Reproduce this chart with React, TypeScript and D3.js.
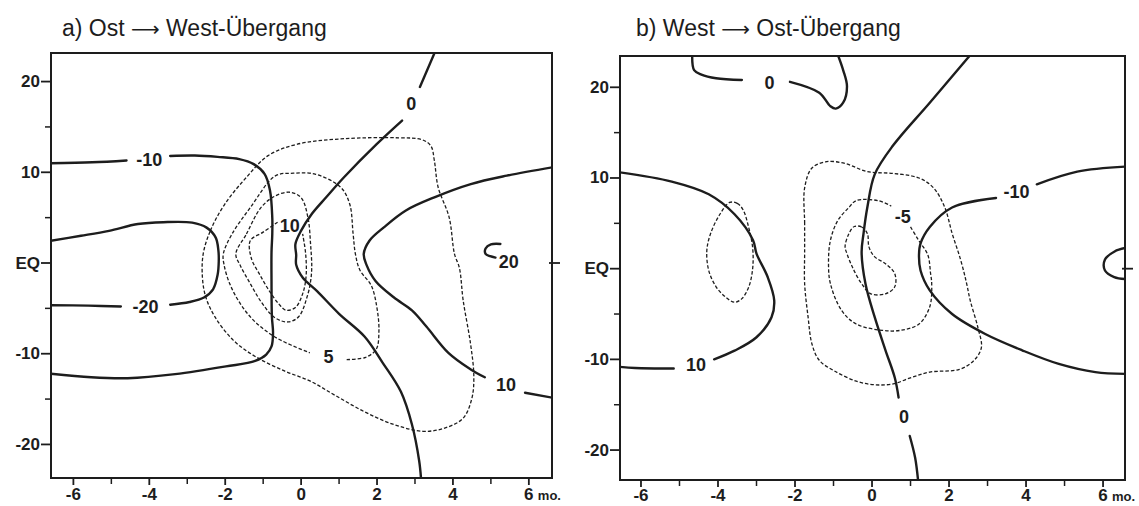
import React from "react";
import * as d3 from "d3";

type Pt = [number, number];

// ---------- axis / text data ----------
const xMajorTicks = [-6, -4, -2, 0, 2, 4, 6];
const xTickLabels = ["-6", "-4", "-2", "0", "2", "4", "6"];
const xMinorTicks = [-5, -3, -1, 1, 3, 5];
const yMajorTicks = [20, 10, 0, -10, -20];
const yTickLabels = ["20", "10", "EQ", "-10", "-20"];
const yMinorTicks = [15, 5, -5, -15];
const titleParts: [string, string, string][] = [
  ["a) Ost ", "\u27F6", " West-\u00dcbergang"],
  ["b) West ", "\u27F6", " Ost-\u00dcbergang"],
];
const unitLabel = "mo.";

// ---------- panel a : solid contours (month, latitude) ----------
const aNeg10Left: Pt[] = [[-6.6, 11.0], [-5.5, 11.1], [-4.6, 11.3]];
const aNeg10Right: Pt[] = [[-3.45, 11.8], [-2.8, 11.85], [-2.2, 11.7], [-1.63, 11.45], [-1.25, 10.9], [-0.96, 9.8], [-0.82, 8.0], [-0.76, 5.0], [-0.76, 3.2], [-0.78, 1.2], [-0.78, -2.0], [-0.77, -5.9], [-0.74, -7.7], [-0.78, -9.2], [-0.92, -10.1], [-1.21, -10.8], [-1.98, -11.4], [-3.32, -12.25], [-4.57, -12.7], [-5.53, -12.6], [-6.6, -12.2]];
const aNeg20Upper: Pt[] = [[-6.6, 2.45], [-5.8, 3.0], [-5.06, 3.55], [-4.3, 4.3], [-3.63, 4.5], [-2.87, 4.45], [-2.49, 3.9], [-2.25, 2.8], [-2.18, 1.4], [-2.17, 0.2], [-2.2, -1.3], [-2.32, -2.9], [-2.56, -3.8], [-2.94, -4.3], [-3.45, -4.6]];
const aNeg20Lower: Pt[] = [[-4.75, -4.8], [-5.6, -4.7], [-6.6, -4.65]];
const aZeroTop: Pt[] = [[3.52, 23.2], [3.13, 19.4]];
const aZeroMain: Pt[] = [[2.66, 15.7], [1.99, 13.1], [1.13, 9.45], [0.66, 7.24], [0.28, 5.4], [0.0, 3.57], [-0.15, 2.1], [-0.13, 0.9], [-0.13, -0.2], [0.04, -1.6], [0.42, -3.1], [1.0, -5.6], [1.67, -8.1], [2.15, -11.0], [2.63, -14.2], [2.92, -17.8], [3.11, -21.8], [3.16, -23.8]];
const aTenMain: Pt[] = [[6.62, 10.55], [5.42, 9.63], [4.47, 8.7], [3.51, 7.24], [2.75, 5.77], [2.18, 3.93], [1.8, 2.46], [1.65, 1.0], [1.72, -0.18], [1.96, -1.98], [2.44, -3.78], [2.92, -5.22], [3.3, -7.0], [3.88, -9.9], [4.46, -11.7], [4.84, -12.6]];
const aTenTail: Pt[] = [[5.9, -14.3], [6.62, -14.85]];
const aTwentyArc: Pt[] = [[5.25, 2.1], [5.0, 2.05], [4.86, 1.6], [4.86, 1.0], [4.98, 0.75], [5.12, 0.6]];

// ---------- panel a : dashed contours ----------
const aDashOuter: Pt[] = [[-2.58, 1.0], [-2.39, 3.57], [-2.01, 6.5], [-1.44, 9.45], [-0.87, 11.84], [-0.1, 13.1], [1.13, 13.7], [2.56, 13.8], [3.18, 13.6], [3.42, 12.9], [3.51, 11.3], [3.61, 8.35], [3.9, 5.04], [4.04, 1.0], [4.17, -0.54], [4.27, -4.14], [4.46, -8.8], [4.55, -12.4], [4.5, -14.9], [4.27, -17.1], [3.78, -18.2], [3.21, -18.55], [2.44, -17.8], [1.67, -16.4], [0.9, -14.6], [0.23, -13.0], [-0.44, -11.9], [-1.21, -10.3], [-1.79, -8.5], [-2.27, -5.94], [-2.51, -3.78], [-2.6, -1.62]];
const aDashFive: Pt[] = [[1.2, -10.65], [1.7, -10.4], [1.98, -9.5], [2.05, -7.5], [2.0, -5.0], [1.85, -2.5], [1.55, -0.8], [1.43, 1.0], [1.37, 3.2], [1.28, 6.5], [1.04, 8.35], [0.37, 9.8], [-0.2, 9.9], [-0.68, 9.6], [-1.34, 6.1], [-1.82, 3.2], [-2.05, 1.0], [-2.03, -0.2], [-1.88, -2.3], [-1.6, -4.5], [-1.21, -6.5], [-0.63, -8.3], [0.23, -9.9]];
const aDashThird: Pt[] = [[-1.72, 1.0], [-1.44, 3.2], [-1.06, 6.1], [-0.68, 7.4], [-0.3, 7.8], [0.0, 7.2], [0.18, 5.0], [0.25, 2.0], [0.28, -0.5], [0.25, -2.0], [0.18, -3.4], [-0.06, -5.9], [-0.35, -6.5], [-0.7, -6.0], [-1.05, -4.3], [-1.35, -2.2], [-1.6, -0.3]];
const aDashTenLeft: Pt[] = [[-0.62, 4.5], [-1.0, 3.4], [-1.34, 2.46], [-1.31, 0.5], [-1.1, -1.2], [-0.85, -3.0], [-0.59, -4.5], [-0.4, -5.2], [-0.15, -4.9], [0.04, -3.4], [0.13, -1.5], [0.12, 1.0], [0.04, 3.2]];

// ---------- panel b : solid contours ----------
const bZeroTopLeft: Pt[] = [[-4.67, 23.6], [-4.62, 21.9], [-4.43, 21.4], [-4.05, 21.0], [-3.38, 20.8]];
const bZeroTopRight: Pt[] = [[-2.13, 20.6], [-1.37, 19.4], [-1.08, 17.9], [-0.94, 17.65], [-0.75, 18.3], [-0.65, 20.1], [-0.75, 21.9], [-0.89, 23.6]];
const bZeroDiagUpper: Pt[] = [[2.56, 23.6], [1.5, 18.3], [0.55, 13.6], [0.07, 10.4], [-0.12, 6.8], [-0.22, 3.9], [-0.27, 1.8], [-0.17, -1.66], [0.07, -5.35], [0.35, -9.0], [0.59, -12.0], [0.69, -14.2]];
const bZeroDiagLower: Pt[] = [[0.98, -18.45], [1.12, -20.85], [1.2, -23.5]];
const bNeg10Right: Pt[] = [[6.6, 11.26], [5.33, 10.7], [4.28, 9.3]];
const bNeg10Main: Pt[] = [[3.22, 7.8], [2.08, 6.75], [1.5, 4.6], [1.26, 2.78], [1.22, 1.5], [1.26, -0.2], [1.5, -2.4], [2.08, -5.0], [2.94, -7.2], [3.9, -9.0], [4.85, -10.5], [5.8, -11.4], [6.6, -11.6]];
const bTenMain: Pt[] = [[-6.6, 10.65], [-5.2, 9.6], [-4.24, 8.2], [-3.57, 6.0], [-3.09, 3.14], [-3.0, 1.66], [-2.71, -0.92], [-2.54, -3.5], [-2.61, -5.35], [-3.0, -7.56], [-3.57, -9.04], [-4.1, -10.0]];
const bTenTail: Pt[] = [[-5.15, -11.0], [-6.15, -10.95], [-6.6, -10.8]];
const bSemi: Pt[] = [[6.6, 2.3], [6.3, 1.9], [6.05, 1.0], [6.05, -0.2], [6.29, -0.92], [6.6, -1.15]];

// ---------- panel b : dashed contours ----------
const bDashLeft: Pt[] = [[-3.7, 7.3], [-3.5, 7.2], [-3.35, 6.5], [-3.2, 4.5], [-3.1, 2.3], [-3.1, 0], [-3.2, -2.0], [-3.38, -3.3], [-3.57, -3.7], [-3.81, -3.1], [-4.05, -2.0], [-4.24, -0.2], [-4.29, 2.0], [-4.19, 3.9], [-3.95, 6.0]];
const bDashOuter: Pt[] = [[-1.75, 1.7], [-1.75, 5.0], [-1.75, 8.9], [-1.56, 11.1], [-1.18, 11.8], [-0.7, 11.6], [-0.12, 10.7], [0.55, 10.5], [1.22, 10.0], [1.6, 8.9], [1.89, 6.75], [2.08, 3.9], [2.3, 1.0], [2.45, -1.5], [2.55, -3.5], [2.75, -6.5], [2.84, -8.7], [2.65, -10.1], [2.27, -11.1], [1.5, -11.4], [1.02, -12.0], [0.55, -12.7], [0.07, -12.8], [-0.41, -12.4], [-0.99, -11.25], [-1.37, -10.1], [-1.56, -8.3], [-1.66, -5.35], [-1.75, -1.66]];
const bDashFive: Pt[] = [[1.0, 4.6], [1.2, 3.2], [1.45, 1.5], [1.52, -0.5], [1.55, -1.66], [1.5, -4.2], [1.22, -6.1], [0.74, -6.8], [0.26, -6.8], [-0.41, -6.1], [-0.79, -4.6], [-1.08, -1.66], [-1.13, 0.55], [-1.08, 3.14], [-0.89, 5.3], [-0.6, 6.75], [-0.41, 7.5], [0.16, 7.5], [0.5, 6.9]];
const bDashInner: Pt[] = [[-0.46, 4.65], [-0.27, 4.6], [-0.12, 3.86], [-0.08, 2.4], [0.07, 1.3], [0.35, 0.55], [0.59, -0.55], [0.59, -2.0], [0.35, -2.77], [-0.03, -2.77], [-0.27, -1.66], [-0.51, 0.18], [-0.65, 1.66], [-0.7, 2.4], [-0.6, 3.86]];

// ---------- contour labels ----------
const aLabelTexts = ["-10", "-20", "0", "10", "5", "10", "20"];
const aLabelPos: Pt[] = [[-4.0, 11.4], [-4.1, -4.9], [2.9, 17.5], [-0.3, 4.1], [0.72, -10.4], [5.4, -13.5], [5.47, 0.1]];
const bLabelTexts = ["0", "-10", "-5", "10", "0"];
const bLabelPos: Pt[] = [[-2.66, 20.5], [3.75, 8.4], [0.8, 5.7], [-4.57, -10.6], [0.83, -16.3]];

type Contour = { pts: Pt[]; closed: boolean; dashed: boolean };

const aContours: Contour[] = [
  { pts: aNeg10Left, closed: false, dashed: false },
  { pts: aNeg10Right, closed: false, dashed: false },
  { pts: aNeg20Upper, closed: false, dashed: false },
  { pts: aNeg20Lower, closed: false, dashed: false },
  { pts: aZeroTop, closed: false, dashed: false },
  { pts: aZeroMain, closed: false, dashed: false },
  { pts: aTenMain, closed: false, dashed: false },
  { pts: aTenTail, closed: false, dashed: false },
  { pts: aTwentyArc, closed: false, dashed: false },
  { pts: aDashOuter, closed: true, dashed: true },
  { pts: aDashFive, closed: false, dashed: true },
  { pts: aDashThird, closed: true, dashed: true },
  { pts: aDashTenLeft, closed: false, dashed: true },
];

const bContours: Contour[] = [
  { pts: bZeroTopLeft, closed: false, dashed: false },
  { pts: bZeroTopRight, closed: false, dashed: false },
  { pts: bZeroDiagUpper, closed: false, dashed: false },
  { pts: bZeroDiagLower, closed: false, dashed: false },
  { pts: bNeg10Right, closed: false, dashed: false },
  { pts: bNeg10Main, closed: false, dashed: false },
  { pts: bTenMain, closed: false, dashed: false },
  { pts: bTenTail, closed: false, dashed: false },
  { pts: bSemi, closed: false, dashed: false },
  { pts: bDashLeft, closed: true, dashed: true },
  { pts: bDashOuter, closed: true, dashed: true },
  { pts: bDashFive, closed: false, dashed: true },
  { pts: bDashInner, closed: true, dashed: true },
];

type PanelCfg = {
  id: string;
  title: [string, string, string];
  titleX: number;
  left: number;
  right: number;
  top: number;
  bottom: number;
  xLabelY: number;
  xDomain: [number, number];
  yDomain: [number, number];
  contours: Contour[];
  labelTexts: string[];
  labelPos: Pt[];
};

const INK = "#1d1d1d";
const FONT = "'Liberation Sans', Arial, Helvetica, sans-serif";

function Panel({ cfg }: { cfg: PanelCfg }) {
  const x = d3.scaleLinear().domain(cfg.xDomain).range([cfg.left, cfg.right]);
  const y = d3.scaleLinear().domain(cfg.yDomain).range([cfg.bottom, cfg.top]);
  const open = d3
    .line<Pt>()
    .x((d) => x(d[0]))
    .y((d) => y(d[1]))
    .curve(d3.curveCatmullRom.alpha(0.5));
  const closed = d3
    .line<Pt>()
    .x((d) => x(d[0]))
    .y((d) => y(d[1]))
    .curve(d3.curveCatmullRomClosed.alpha(0.5));
  const clipId = `clip-${cfg.id}`;
  return (
    <g>
      <defs>
        <clipPath id={clipId}>
          <rect x={cfg.left} y={cfg.top} width={cfg.right - cfg.left} height={cfg.bottom - cfg.top} />
        </clipPath>
      </defs>
      <text x={cfg.titleX} y={36} fontFamily={FONT} fontSize={23} fill={INK}>
        <tspan>{cfg.title[0]}</tspan>
        <tspan fontFamily="'DejaVu Sans', sans-serif" fontSize={20}>{cfg.title[1]}</tspan>
        <tspan>{cfg.title[2]}</tspan>
      </text>
      <g clipPath={`url(#${clipId})`}>
        {cfg.contours.map((c, i) => (
          <path
            key={i}
            d={(c.closed ? closed : open)(c.pts) || ""}
            fill="none"
            stroke={INK}
            strokeWidth={c.dashed ? 1.3 : 2.4}
            strokeDasharray={c.dashed ? "3.5 2" : undefined}
            strokeLinecap={c.dashed ? "butt" : "round"}
            strokeLinejoin="round"
          />
        ))}
      </g>
      {cfg.labelTexts.map((t, i) => (
        <text
          key={i}
          x={x(cfg.labelPos[i][0])}
          y={y(cfg.labelPos[i][1])}
          textAnchor="middle"
          dominantBaseline="central"
          fontFamily={FONT}
          fontSize={18}
          fontWeight="bold"
          fill={INK}
        >
          {t}
        </text>
      ))}
      <rect
        x={cfg.left}
        y={cfg.top}
        width={cfg.right - cfg.left}
        height={cfg.bottom - cfg.top}
        fill="none"
        stroke={INK}
        strokeWidth={2}
      />
      {yMajorTicks.map((v, i) => (
        <g key={`ym${i}`}>
          <line x1={cfg.left - 10} x2={cfg.left} y1={y(v)} y2={y(v)} stroke={INK} strokeWidth={1.8} />
          <text
            x={cfg.left - 11}
            y={y(v)}
            textAnchor="end"
            dominantBaseline="central"
            fontFamily={FONT}
            fontSize={17}
            fontWeight="bold"
            fill={INK}
          >
            {yTickLabels[i]}
          </text>
        </g>
      ))}
      {yMinorTicks.map((v, i) => (
        <line key={`yn${i}`} x1={cfg.left - 6} x2={cfg.left} y1={y(v)} y2={y(v)} stroke={INK} strokeWidth={1.5} />
      ))}
      <line x1={cfg.right - 3} x2={cfg.right + 8} y1={y(0)} y2={y(0)} stroke={INK} strokeWidth={1.8} />
      {xMajorTicks.map((v, i) => (
        <g key={`xm${i}`}>
          <line x1={x(v)} x2={x(v)} y1={cfg.bottom} y2={cfg.bottom + 7} stroke={INK} strokeWidth={1.8} />
          <text
            x={x(v)}
            y={cfg.xLabelY}
            textAnchor="middle"
            fontFamily={FONT}
            fontSize={17}
            fontWeight="bold"
            fill={INK}
          >
            {xTickLabels[i]}
          </text>
        </g>
      ))}
      {xMinorTicks.map((v, i) => (
        <line key={`xn${i}`} x1={x(v)} x2={x(v)} y1={cfg.bottom} y2={cfg.bottom + 6} stroke={INK} strokeWidth={1.5} />
      ))}
      <text
        x={x(6) + 9}
        y={cfg.xLabelY}
        fontFamily={FONT}
        fontSize={13}
        fontWeight="bold"
        fill={INK}
      >
        {unitLabel}
      </text>
    </g>
  );
}

const panels: PanelCfg[] = [
  {
    id: "a",
    title: titleParts[0],
    titleX: 62,
    left: 51,
    right: 552,
    top: 53,
    bottom: 478,
    xLabelY: 500,
    xDomain: [-6.59, 6.61],
    yDomain: [-23.7, 23.15],
    contours: aContours,
    labelTexts: aLabelTexts,
    labelPos: aLabelPos,
  },
  {
    id: "b",
    title: titleParts[1],
    titleX: 636,
    left: 620,
    right: 1125,
    top: 56,
    bottom: 480,
    xLabelY: 501,
    xDomain: [-6.545, 6.57],
    yDomain: [-23.3, 23.45],
    contours: bContours,
    labelTexts: bLabelTexts,
    labelPos: bLabelPos,
  },
];

export default function App() {
  return (
    <svg
      width={1139}
      height={506}
      style={{ position: "absolute", left: 0, top: 0, background: "#fff" }}
    >
      <rect x={0} y={0} width={1139} height={506} fill="#fff" />
      {panels.map((p) => (
        <Panel key={p.id} cfg={p} />
      ))}
    </svg>
  );
}
